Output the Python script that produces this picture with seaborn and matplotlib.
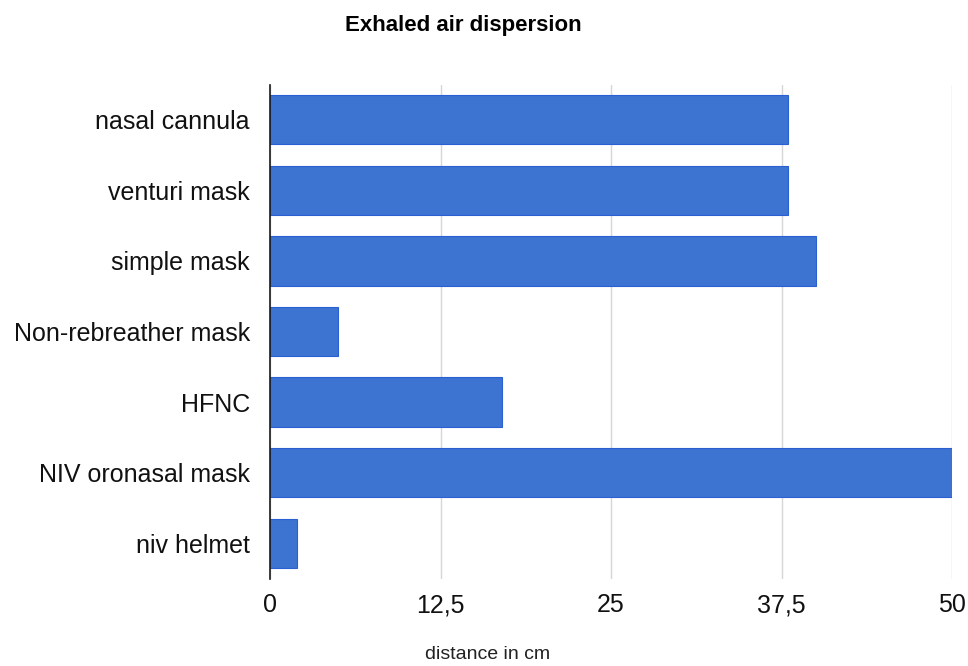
import matplotlib
matplotlib.use("Agg")
import matplotlib.pyplot as plt
import seaborn as sns
import pandas as pd

# Exhaled air dispersion distance per oxygen delivery device
devices = ["nasal cannula", "venturi mask", "simple mask", "Non-rebreather mask",
           "HFNC", "NIV oronasal mask", "niv helmet"]
distance_cm = [38, 38, 40, 5, 17, 50, 2]
x_ticks = [0, 12.5, 25, 37.5, 50]
x_tick_labels = ["0", "12,5", "25", "37,5", "50"]

df = pd.DataFrame({"device": devices, "distance": distance_cm})

sns.set_theme(style="white")
plt.rcParams["font.family"] = ["Liberation Sans", "DejaVu Sans"]

fig = plt.figure(figsize=(9.68, 6.66), dpi=100)
ax = fig.add_axes([270 / 968, 1 - 578.5 / 666, (952 - 270) / 968, (578.5 - 84.5) / 666])

sns.barplot(data=df, x="distance", y="device", orient="h", order=devices,
            color="#3d74d1", saturation=1, width=0.70, ax=ax,
            edgecolor="#2a60d2", linewidth=0.8)

ax.set_xlim(0, 50)
ax.set_ylim(len(devices) - 0.5, -0.5)
ax.set_xticks(x_ticks)
ax.set_xticklabels(x_tick_labels, fontsize=18, color="#111111")
ax.tick_params(axis="y", labelsize=18, length=0, pad=14.5, labelcolor="#111111")
ax.tick_params(axis="x", length=0, pad=10.5)

ax.grid(axis="x", color="#d6d6d6", linewidth=1)
ax.set_axisbelow(True)
for side in ["top", "right", "bottom"]:
    ax.spines[side].set_visible(False)
ax.spines["left"].set_color("#1a1a1a")
ax.spines["left"].set_linewidth(1.2)
ax.spines["left"].set_zorder(5)

ax.set_ylabel("")
ax.set_xlabel("distance in cm", fontsize=14, color="#222222")
ax.xaxis.set_label_coords(488 / 968, 1 - 659 / 666, transform=fig.transFigure)
ax.xaxis.label.set_verticalalignment("baseline")

fig.text(463 / 968, 1 - 31.5 / 666, "Exhaled air dispersion", ha="center", va="baseline",
         fontsize=16, fontweight="bold", color="#000000")

fig.savefig("out.png", dpi=100)
